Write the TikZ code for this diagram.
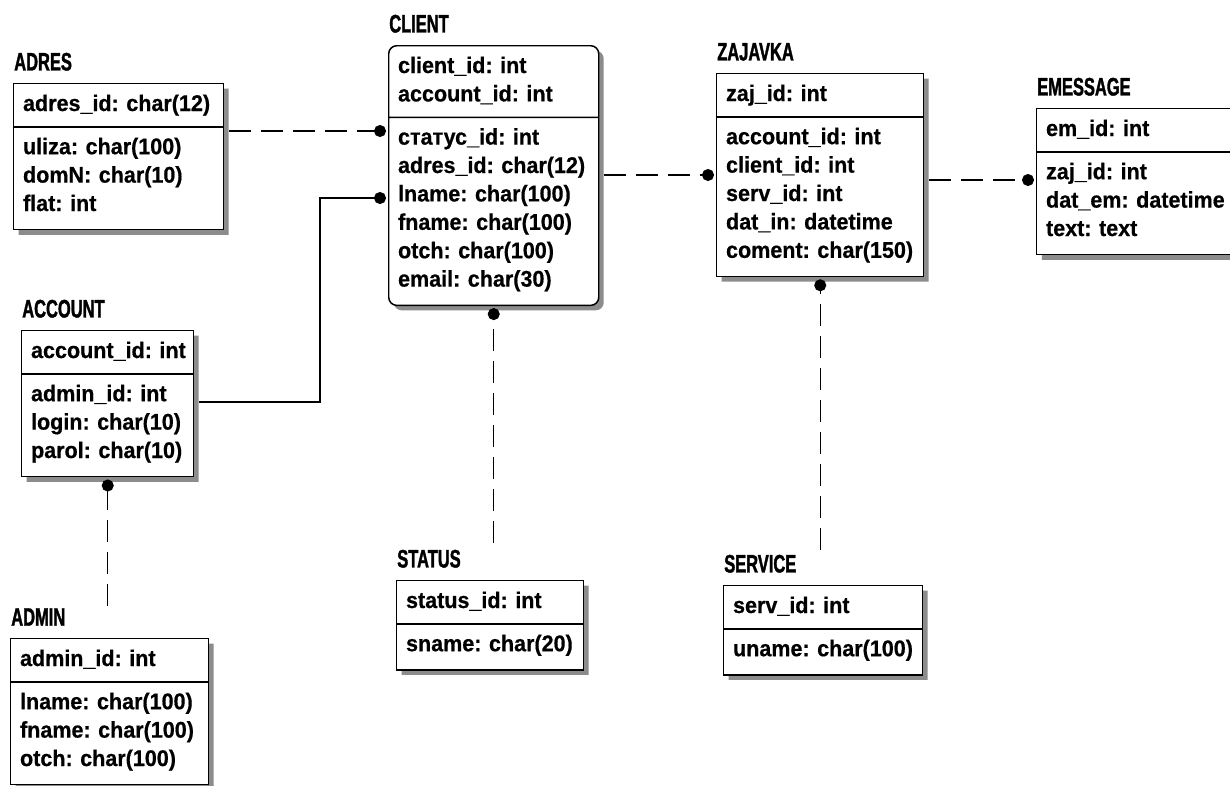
\documentclass[tikz,border=0pt]{standalone}
\usepackage{fontspec}
\newfontfamily\erfont{Liberation Sans}[FakeStretch=0.95, BoldFeatures={FakeBold=0.6}]
\newfontfamily\ertitlefont{Liberation Sans}[FakeStretch=0.65, BoldFeatures={FakeBold=1.4}]
\usetikzlibrary{shapes.multipart, shadows, arrows.meta, positioning}

\newcommand{\erkey}[1]{\strut#1\strut}
\newcommand{\erattr}[1]{\strut#1\strut\rule[-8.5pt]{0pt}{1pt}}

\begin{document}
\begin{tikzpicture}[x=0.75pt,y=-0.75pt,
    entity/.style={rectangle split, rectangle split parts=2, draw, line width=1.1pt,
      fill=white, text width=#1, align=left, inner xsep=7pt, inner ysep=5pt, anchor=north west,
      font=\erfont\bfseries\fontsize{17}{21.3}\selectfont,
      drop shadow={shadow xshift=3.75pt, shadow yshift=-3.75pt, fill=black!45, opacity=1}},
    ertitle/.style={font=\ertitlefont\bfseries\fontsize{19}{21}\selectfont, inner sep=0pt},
    fkline/.style={line width=1pt, -{Circle[length=9pt]}, shorten >=1.5pt},
    fkdash/.style={fkline, dash pattern=on 16.5pt off 7.5pt}]

  \path[use as bounding box, fill=white] (0,0) rectangle (1230,785);
  \clip (0,0) rectangle (1230,785);

  % entidades
  \node[entity=143.5pt] (adres) at (13,83)
    {\erkey{adres\_id:~char(12)}\nodepart{two}\erattr{uliza:~char(100)\\domN:~char(10)\\flat:~int}};
  \node[entity=143.5pt, rounded corners=6pt] (client) at (388,45)
    {\erkey{client\_id:~int\\account\_id:~int}\nodepart{two}\erattr{статус\_id:~int\\adres\_id:~char(12)\\lname:~char(100)\\fname:~char(100)\\otch:~char(100)\\email:~char(30)}};
  \node[entity=141.25pt] (zajavka) at (716,73)
    {\erkey{zaj\_id:~int}\nodepart{two}\erattr{account\_id:~int\\client\_id:~int\\serv\_id:~int\\dat\_in:~datetime\\coment:~char(150)}};
  \node[entity=162.25pt] (emessage) at (1036,108)
    {\erkey{em\_id:~int}\nodepart{two}\erattr{zaj\_id:~int\\dat\_em:~datetime\\text:~text}};
  \node[entity=115pt] (account) at (21,330)
    {\erkey{account\_id:~int}\nodepart{two}\erattr{admin\_id:~int\\login:~char(10)\\parol:~char(10)}};
  \node[entity=134.5pt] (admin) at (10,638)
    {\erkey{admin\_id:~int}\nodepart{two}\erattr{lname:~char(100)\\fname:~char(100)\\otch:~char(100)}};
  \node[entity=126.25pt] (status) at (396,580)
    {\erkey{status\_id:~int}\nodepart{two}\erattr{sname:~char(20)}};
  \node[entity=135.25pt] (service) at (723,585)
    {\erkey{serv\_id:~int}\nodepart{two}\erattr{uname:~char(100)}};

  % nomes das tabelas
  \foreach \e/\t in {adres/ADRES, client/CLIENT, zajavka/ZAJAVKA, emessage/EMESSAGE,
                     account/ACCOUNT, admin/ADMIN, status/STATUS, service/SERVICE}
    \node[ertitle, above right=9pt and 0.75pt of \e.north west] (\e-title) {\t};

  % ligacoes
  \foreach \a/\b/\y in {adres/client/131, client/zajavka/175, zajavka/emessage/180}
    \draw[fkdash, shorten <=3.75pt] (\a.east |- 0,\y) -- (\b.west |- 0,\y);
  \draw[fkline, shorten <=3.75pt] (account.east |- 0,402) -| (320,198) -- (client.west |- 0,198);

  \coordinate (admin-end) at (account.south |- 0,606);
  \coordinate (status-end) at (client.south |- 0,543);
  \coordinate (service-end) at (zajavka.south |- 0,550);
  \foreach \e/\c in {account/admin-end, client/status-end, zajavka/service-end}
    \draw[fkdash] (\c) -- (\e.south);
\end{tikzpicture}
\end{document}
